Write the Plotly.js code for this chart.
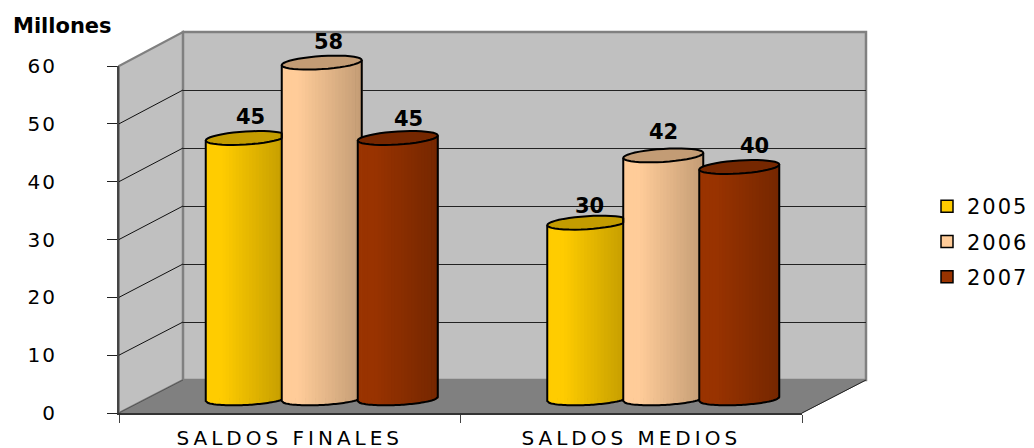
<!DOCTYPE html>
<html><head><meta charset="utf-8">
<script src="https://cdn.plot.ly/plotly-3.0.1.min.js"></script>
<style>html,body{margin:0;padding:0;background:#fff;overflow:hidden}#c{width:1034px;height:448px}
.x2tick text{letter-spacing:4px}
.y2tick text{letter-spacing:2px}
.legendtext{letter-spacing:2px}
</style>
</head><body><div id="c"></div>
<script>
const categories = ['SALDOS FINALES', 'SALDOS MEDIOS'];
const years = ['2005', '2006', '2007'];
const values2005 = [45, 30.4];
const values2006 = [58, 42];
const values2007 = [45, 40];
const yTicks = [0, 10, 20, 30, 40, 50, 60];
const baseColors = [[255,204,0],[255,204,153],[153,51,0]];
const series = [values2005, values2006, values2007];

const W = 1034, H = 448;
const dx = p => p / W, dy = p => 1 - p / H;
const font = 'DejaVu Sans, Verdana, sans-serif';
const pxPerCat = 341.5, pxPerUnit = 5.8;
const barW = 80 / pxPerCat, step = 76 / pxPerCat;
const N = 24;
const shade = (c, f) => `rgb(${c.map(v => Math.round(v * f)).join(',')})`;
const topTilt = 2.5, botTilt = 2, capB = 6.5, botB = 6;

const traces = [];
traces.push({type:'scatter', x:[0], y:[0], xaxis:'x', yaxis:'y', mode:'markers', marker:{opacity:0}, showlegend:false, hoverinfo:'skip'});
traces.push({type:'scatter', x:categories, y:[0,0], xaxis:'x2', yaxis:'y2', mode:'markers', marker:{opacity:0}, showlegend:false, hoverinfo:'skip'});

const shapes = [];
const poly = (pts, fill, lc, lw) => ({type:'path', xref:'paper', yref:'paper', layer:'below',
  path:'M' + pts.map(p => dx(p[0]).toFixed(5) + ',' + dy(p[1]).toFixed(5)).join('L') + 'Z',
  fillcolor:fill, line:{color:lc, width:lw}});
shapes.push(poly([[119,66],[183,32],[183,380],[119,413]], '#C0C0C0', '#808080', 2));
shapes.push(poly([[183,32],[866,32],[866,380],[183,380]], '#C0C0C0', '#808080', 2.5));
shapes.push(poly([[119,413],[183,380],[866,380],[802,413]], '#808080', '#808080', 1));
yTicks.slice(1, -1).forEach(t => {
  const yF = 413 - t * (347 / 60), yB = 380 - t * (348 / 60);
  shapes.push({type:'line', xref:'paper', yref:'paper', layer:'below', x0:dx(119), x1:dx(183), y0:dy(yF), y1:dy(yB), line:{color:'#111', width:1}});
});
shapes.push({type:'line', xref:'paper', yref:'paper', layer:'below', x0:dx(802), x1:dx(866), y0:dy(413), y1:dy(380), line:{color:'#222', width:1}});
shapes.push({type:'line', xref:'paper', yref:'paper', layer:'below', x0:dx(119), x1:dx(183), y0:dy(413), y1:dy(380), line:{color:'#555', width:1}});

const annotations = [];
const labelShift = [[5,7],[7,7],[11,5]];
const labelShift2 = [[2,3],[0,9],[15,7]];

series.forEach((vals, s) => {
  const c = baseColors[s];
  const center = (s - 1) * step;
  traces.push({type:'bar', name:years[s], legendgroup:years[s], x:categories, y:vals, xaxis:'x3', yaxis:'y3',
    width:barW*0.85, offset:center - barW*0.85/2, marker:{color:shade(c,1), line:{color:'#000', width:1.5}}, hoverinfo:'skip'});
  for (let k = 0; k < N; k++) {
    const t = (k + 0.5) / N, d = 2 * t - 1;
    const f = t < 0.2 ? 1 : 1 - 0.235 * (t - 0.2) / 0.8;
    const bottomPx = -d * botTilt + botB * Math.sqrt(1 - d * d);
    const base = -bottomPx / pxPerUnit;
    const rise = d * topTilt / pxPerUnit;
    traces.push({type:'bar', legendgroup:years[s], showlegend:false, x:categories,
      y:vals.map(v => v + rise - base), base:vals.map(() => base), xaxis:'x3', yaxis:'y3',
      width:barW / N + 0.002, offset:center - barW/2 + k * barW / N,
      marker:{color:shade(c, f), line:{width:0}}, hoverinfo:'skip'});
  }
  vals.forEach((v, i) => {
    const cx = i + center, a = barW / 2;
    const X = d => (cx + a * d).toFixed(5);
    const next = s < series.length - 1 ? series[s + 1][i] : null;
    const limit = next === null ? 1 : step / a - 1;
    const capClamp = next !== null && next > v;
    const capPts = [], botPts = [];
    for (let j = 0; j <= 40; j++) {
      const th = j / 40 * 2 * Math.PI;
      const d = capClamp ? Math.min(Math.cos(th), limit) : Math.cos(th);
      capPts.push(X(d) + ',' + (v + (Math.cos(th) * topTilt + Math.sin(th) * capB) / pxPerUnit).toFixed(4));
    }
    for (let j = 0; j <= 40; j++) {
      const d = -1 + j / 20;
      if (d > limit) break;
      botPts.push(X(d) + ',' + (-(-d * botTilt + botB * Math.sqrt(1 - d * d)) / pxPerUnit).toFixed(4));
    }
    shapes.push({type:'path', xref:'x3', yref:'y3', layer:'above',
      path:'M' + X(-1) + ',' + (v - topTilt / pxPerUnit).toFixed(4) + 'L' + botPts.join('L') +
        (next === null ? 'L' + X(1) + ',' + (v + topTilt / pxPerUnit).toFixed(4) : ''),
      line:{color:'#000', width:2}});
    if (next !== null && next < v) {
      shapes.push({type:'path', xref:'x3', yref:'y3', layer:'above',
        path:'M' + X(1) + ',' + (v + topTilt / pxPerUnit).toFixed(4) + 'L' + X(1) + ',' + next.toFixed(4),
        line:{color:'#000', width:2}});
    }
    shapes.push({type:'path', xref:'x3', yref:'y3', layer:'above', path:'M' + capPts.join('L') + 'Z',
      fillcolor:shade(c, 0.765), line:{color:'#000', width:2}});
    const sh = (i === 0 ? labelShift : labelShift2)[s];
    annotations.push({xref:'x3', yref:'y3', x:cx, y:v, yanchor:'bottom', xanchor:'center', showarrow:false,
      xshift:sh[0], yshift:sh[1], text:String(Math.round(v)), font:{family:font, size:21, color:'#000', weight:'bold'}});
  });
});

annotations.push({xref:'paper', yref:'paper', x:dx(11), y:dy(26), xanchor:'left', yanchor:'middle', showarrow:false,
  text:'<b>Millones</b>', font:{family:font, size:21, color:'#000'}});

const layout = {
  width:W, height:H, margin:{l:0, r:0, t:0, b:0, pad:0}, paper_bgcolor:'#fff', plot_bgcolor:'rgba(0,0,0,0)',
  barmode:'overlay', showlegend:true, font:{family:font, color:'#000'},
  legend:{x:dx(927), y:dy(186), xanchor:'left', yanchor:'top', font:{family:font, size:21, color:'#000'}, tracegroupgap:5,
    bgcolor:'rgba(0,0,0,0)', itemclick:false, itemdoubleclick:false},
  xaxis:{domain:[dx(183), dx(866)], range:[0,1], visible:false, fixedrange:true},
  yaxis:{domain:[dy(380), dy(32)], range:[0,60], tickvals:yTicks, showgrid:true, gridcolor:'#222', gridwidth:1,
    showticklabels:false, ticks:'', zeroline:false, showline:false, anchor:'x'},
  xaxis2:{domain:[dx(119), dx(802)], anchor:'y2', type:'category', categoryorder:'array', categoryarray:categories, tickson:'boundaries',
    range:[-0.5,1.5], showline:true, linecolor:'#333', linewidth:1.5, ticks:'outside', ticklen:8, tickcolor:'#444', tickwidth:1,
    showgrid:false, tickfont:{family:font, size:20, color:'#000'}, ticklabelstandoff:6},
  yaxis2:{domain:[dy(413), dy(66)], anchor:'x2', range:[0,60], tickvals:yTicks, ticktext:yTicks.map(String), showline:true, linecolor:'#444', linewidth:2,
    ticks:'outside', ticklen:10, tickcolor:'#222', tickwidth:1, showgrid:false, zeroline:false,
    tickfont:{family:font, size:20, color:'#000'}, ticklabelstandoff:46},
  xaxis3:{domain:[dx(151), dx(834)], anchor:'y3', type:'category', categoryorder:'array', categoryarray:categories, range:[-0.5,1.5], visible:false},
  yaxis3:{domain:[dy(399 + 4 * pxPerUnit), dy(399 - 60 * pxPerUnit)], anchor:'x3', range:[-4,60], visible:false},
  shapes, annotations
};
Plotly.newPlot('c', traces, layout, {staticPlot:true, displayModeBar:false}).then(() => {
  document.querySelectorAll('.legend .scrollbox').forEach(e => e.removeAttribute('clip-path'));
});
</script></body></html>
